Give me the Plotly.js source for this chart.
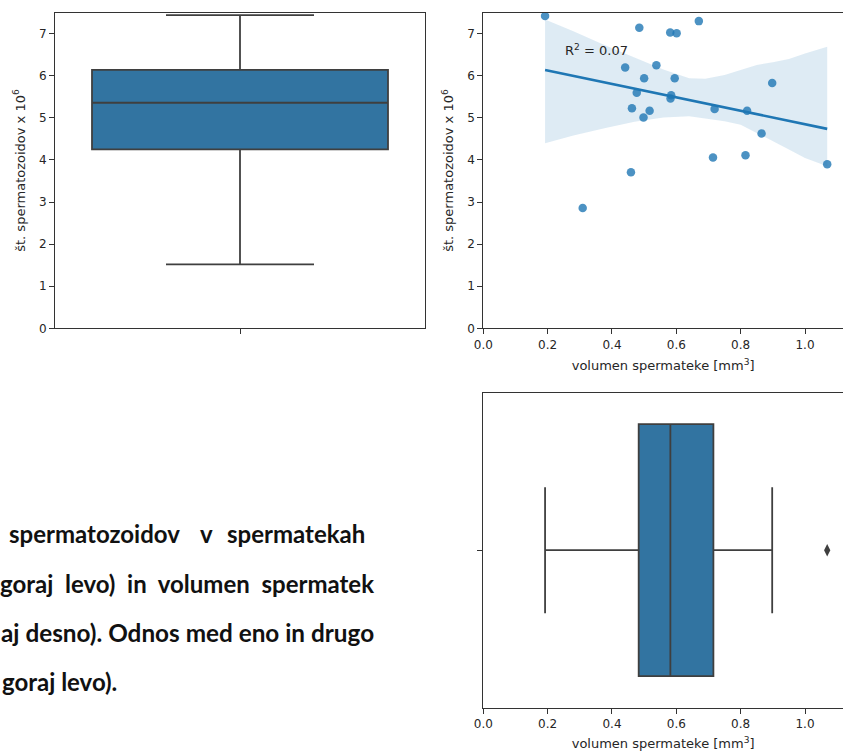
<!DOCTYPE html>
<html><head><meta charset="utf-8">
<script src="https://cdn.plot.ly/plotly-3.0.1.min.js"></script>
<style>html,body{margin:0;padding:0;background:#fff;overflow:hidden}#chart{width:843px;height:751px}</style>
</head><body><div id="chart"></div>
<script>
// spermatheca volume (mm^3) and sperm count (x 10^6) per spermatheca
const volume = [0.192, 0.485, 0.581, 0.601, 0.670, 0.441, 0.538, 0.500, 0.595, 0.898, 0.477, 0.584, 0.582, 0.462, 0.517, 0.498, 0.719, 0.820, 0.865, 0.714, 0.815, 1.069, 0.459, 0.309];
const spermCount = [7.42, 7.14, 7.03, 7.01, 7.30, 6.20, 6.25, 5.94, 5.94, 5.83, 5.60, 5.54, 5.46, 5.23, 5.17, 5.01, 5.21, 5.17, 4.63, 4.06, 4.11, 3.90, 3.71, 2.86];

// box statistics of sperm count (all spermathecae)
const countQ1 = [4.25];
const countMedian = [5.36];
const countQ3 = [6.14];
const countLowerFence = [1.52];
const countUpperFence = [7.44];

// 95% confidence band of the regression
const bandX = [0.192, 0.28, 0.38, 0.47, 0.56, 0.64, 0.69, 0.75, 0.80, 0.85, 0.90, 0.95, 1.00, 1.069];
const bandUpper = [7.34, 7.06, 6.72, 6.43, 6.15, 5.94, 5.93, 6.02, 6.14, 6.26, 6.32, 6.40, 6.53, 6.69];
const bandLower = [4.40, 4.58, 4.76, 4.91, 5.01, 5.04, 4.98, 4.92, 4.84, 4.64, 4.44, 4.25, 4.05, 3.85];

const r2Label = 'R<sup>2</sup> = 0.07';
const yTitle = 'št. spermatozoidov x 10<sup>6</sup>';
const xTitle = 'volumen spermateke [mm<sup>3</sup>]';
const volTicks = [0, 0.2, 0.4, 0.6, 0.8, 1.0];
const countTicks = [0, 1, 2, 3, 4, 5, 6, 7];

const captionLine1 = ['spermatozoidov', 'v', 'spermatekah'];
const captionLine2 = 'goraj\u00a0 levo)\u00a0 in\u00a0 volumen\u00a0 spermatek';
const captionLine3 = 'aj desno). Odnos med eno in drugo';
const captionLine4 = 'goraj levo).';

// linear regression from data
const n = volume.length;
const mx = volume.reduce((a, b) => a + b, 0) / n;
const my = spermCount.reduce((a, b) => a + b, 0) / n;
let sxy = 0, sxx = 0;
for (let i = 0; i < n; i++) { sxy += (volume[i] - mx) * (spermCount[i] - my); sxx += (volume[i] - mx) ** 2; }
const slope = sxy / sxx, intercept = my - slope * mx;
const fitX = [Math.min(...volume), Math.max(...volume)];
const fitY = fitX.map(v => intercept + slope * v);

// box statistics of volume (linear percentiles, 1.5 IQR whiskers)
const sortedVol = volume.slice().sort((a, b) => a - b);
function pct(p) { const pos = p * (n - 1), lo = Math.floor(pos), f = pos - lo; return lo + 1 < n ? sortedVol[lo] * (1 - f) + sortedVol[lo + 1] * f : sortedVol[lo]; }
const vQ1 = pct(0.25), vMed = pct(0.5), vQ3 = pct(0.75), vIqr = vQ3 - vQ1;
const inside = sortedVol.filter(v => v >= vQ1 - 1.5 * vIqr && v <= vQ3 + 1.5 * vIqr);
const vLow = Math.min(...inside), vHigh = Math.max(...inside);
const volOutliers = sortedVol.filter(v => v < vQ1 - 1.5 * vIqr || v > vQ3 + 1.5 * vIqr);

const W = 843, H = 751;
const px = v => v / W, py = v => 1 - v / H;

const boxFill = '#3274a1', boxLine = '#3f3f3f', blue = '#1f77b4';
const axisFont = {family: 'DejaVu Sans', size: 12, color: '#262626'};
const titleFont = {family: 'DejaVu Sans', size: 13, color: '#262626'};
const common = {showline: true, linecolor: '#333', linewidth: 1, ticks: 'outside', ticklen: 5, tickwidth: 1, tickcolor: '#333', showgrid: false, zeroline: false, tickfont: axisFont, fixedrange: true};

const traces = [
  {type: 'box', x: [0], q1: countQ1, median: countMedian, q3: countQ3, lowerfence: countLowerFence, upperfence: countUpperFence,
   width: 0.8, whiskerwidth: 0.5, fillcolor: boxFill, line: {color: boxLine, width: 1.8}, boxpoints: false,
   xaxis: 'x', yaxis: 'y', showlegend: false, hoverinfo: 'skip'},
  {type: 'scatter', mode: 'markers', x: volume, y: spermCount, xaxis: 'x2', yaxis: 'y2',
   marker: {color: 'rgba(31,119,180,0.8)', size: 8.5, line: {width: 0}}, showlegend: false},
  {type: 'scatter', mode: 'lines', x: bandX.concat(bandX.slice().reverse()), y: bandUpper.concat(bandLower.slice().reverse()),
   fill: 'toself', fillcolor: 'rgba(31,119,180,0.15)', line: {width: 0}, xaxis: 'x2', yaxis: 'y2', showlegend: false, hoverinfo: 'skip'},
  {type: 'scatter', mode: 'lines', x: fitX, y: fitY, line: {color: blue, width: 2.6}, xaxis: 'x2', yaxis: 'y2', showlegend: false},
  {type: 'box', y: [0], orientation: 'h', q1: [vQ1], median: [vMed], q3: [vQ3], lowerfence: [vLow], upperfence: [vHigh],
   width: 0.8, whiskerwidth: 0.5, fillcolor: boxFill, line: {color: boxLine, width: 1.8}, boxpoints: false,
   xaxis: 'x3', yaxis: 'y3', showlegend: false},
  {type: 'scatter', mode: 'markers', x: volOutliers, y: volOutliers.map(() => 0), xaxis: 'x3', yaxis: 'y3',
   marker: {symbol: 'diamond-tall', color: boxLine, size: 9, line: {width: 0}}, showlegend: false}
];

const capFont = {family: 'Lato', size: 24, color: '#111', weight: 700};
const capFont3 = {family: 'Lato', size: 24.3, color: '#111', weight: 700};
const annotations = [
  {xref: 'x2', yref: 'y2', x: 0.248, y: 6.62, xanchor: 'left', yanchor: 'middle', text: r2Label, showarrow: false, font: titleFont},
  {xref: 'paper', yref: 'paper', x: px(7), y: py(533), xanchor: 'left', yanchor: 'middle', text: captionLine1[0], showarrow: false, font: capFont},
  {xref: 'paper', yref: 'paper', x: px(206), y: py(533), xanchor: 'center', yanchor: 'middle', text: captionLine1[1], showarrow: false, font: capFont},
  {xref: 'paper', yref: 'paper', x: px(367), y: py(533), xanchor: 'right', yanchor: 'middle', text: captionLine1[2], showarrow: false, font: capFont},
  {xref: 'paper', yref: 'paper', x: px(376), y: py(583), xanchor: 'right', yanchor: 'middle', text: captionLine2, showarrow: false, font: capFont},
  {xref: 'paper', yref: 'paper', x: px(376), y: py(632), xanchor: 'right', yanchor: 'middle', text: captionLine3, showarrow: false, font: capFont3},
  {xref: 'paper', yref: 'paper', x: px(0), y: py(681), xanchor: 'left', yanchor: 'middle', text: captionLine4, showarrow: false, font: capFont}
];

const layout = {
  width: W, height: H, margin: {l: 0, r: 0, t: 0, b: 0}, paper_bgcolor: '#fff', plot_bgcolor: '#fff', showlegend: false,
  xaxis: Object.assign({}, common, {domain: [px(55), px(425)], range: [-0.5, 0.5], anchor: 'y', mirror: true, tickvals: [0], showticklabels: false}),
  yaxis: Object.assign({}, common, {domain: [py(328.3), py(12.7)], range: [0, 7.5], anchor: 'x', mirror: true, tickvals: countTicks,
    title: {text: yTitle, font: titleFont, standoff: 10}}),
  xaxis2: Object.assign({}, common, {domain: [px(483.3), 1], range: [0, (W - 483.3) / 321.7], anchor: 'y2', mirror: true, tickvals: volTicks, tickformat: '.1f',
    title: {text: xTitle, font: titleFont, standoff: 10}}),
  yaxis2: Object.assign({}, common, {domain: [py(328.3), py(12.7)], range: [0, 7.5], anchor: 'x2', tickvals: countTicks,
    title: {text: yTitle, font: titleFont, standoff: 10}}),
  xaxis3: Object.assign({}, common, {domain: [px(483.3), 1], range: [0, (W - 483.3) / 321.7], anchor: 'y3', mirror: true, tickvals: volTicks, tickformat: '.1f',
    title: {text: xTitle, font: titleFont, standoff: 10}}),
  yaxis3: Object.assign({}, common, {domain: [py(707.7), py(392.7)], range: [0.5, -0.5], anchor: 'x3', tickvals: [0], showticklabels: false}),
  annotations: annotations
};

Plotly.newPlot('chart', traces, layout, {displayModeBar: false, staticPlot: true});
</script>
</body></html>
